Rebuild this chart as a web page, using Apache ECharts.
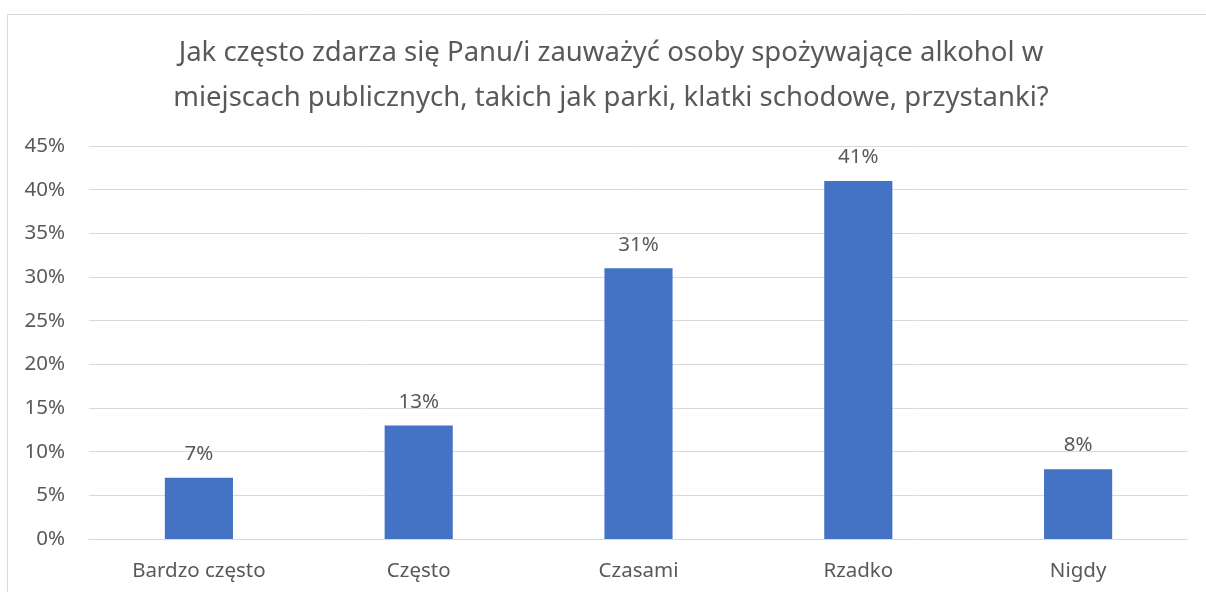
<!DOCTYPE html>
<html>
<head>
<meta charset="utf-8">
<script src="https://cdn.jsdelivr.net/npm/echarts@6/dist/echarts.min.js"></script>
<style>
  html, body { margin: 0; padding: 0; background: #ffffff; }
  #chart { width: 1206px; height: 592px; }
</style>
</head>
<body>
<div id="chart"></div>
<script>
var categories = ["Bardzo często", "Często", "Czasami", "Rzadko", "Nigdy"];
var values = [7, 13, 31, 41, 8];
var yTicks = [0, 5, 10, 15, 20, 25, 30, 35, 40, 45];

var font = "'Noto Sans', sans-serif";
var textColor = "#595959";

var chart = echarts.init(document.getElementById('chart'));
chart.setOption({
  animation: false,
  backgroundColor: '#ffffff',
  title: {
    text: "Jak często zdarza się Panu/i zauważyć osoby spożywające alkohol w\nmiejscach publicznych, takich jak parki, klatki schodowe, przystanki?",
    left: 606,
    top: 26,
    textAlign: 'center',
    textStyle: {
      fontFamily: font,
      fontSize: 27.5,
      fontWeight: 'normal',
      color: textColor,
      lineHeight: 45
    }
  },
  graphic: [{
    type: 'rect',
    shape: { x: 7.5, y: 14.5, width: 1300, height: 700 },
    style: { fill: 'none', stroke: '#d9d9d9', lineWidth: 1 },
    silent: true
  }],
  grid: { left: 89, right: 18, top: 146, bottom: 53 },
  xAxis: {
    type: 'category',
    data: categories,
    axisTick: { show: false },
    axisLine: { lineStyle: { color: '#d9d9d9', width: 1 } },
    axisLabel: { fontFamily: font, fontSize: 20.5, color: textColor, margin: 22 }
  },
  yAxis: {
    type: 'value',
    min: yTicks[0],
    max: yTicks[yTicks.length - 1],
    interval: 5,
    axisLine: { show: false },
    axisTick: { show: false },
    splitLine: { lineStyle: { color: '#d9d9d9', width: 1 } },
    axisLabel: {
      fontFamily: font, fontSize: 20.5, color: textColor, margin: 24,
      formatter: function (v) { return v + '%'; }
    }
  },
  series: [{
    type: 'bar',
    data: values,
    barWidth: '31%',
    itemStyle: { color: '#4472C4' },
    label: {
      show: true,
      position: 'top',
      distance: 13,
      fontFamily: font,
      fontSize: 20.5,
      color: textColor,
      formatter: function (p) { return p.value + '%'; }
    }
  }]
});
</script>
</body>
</html>
